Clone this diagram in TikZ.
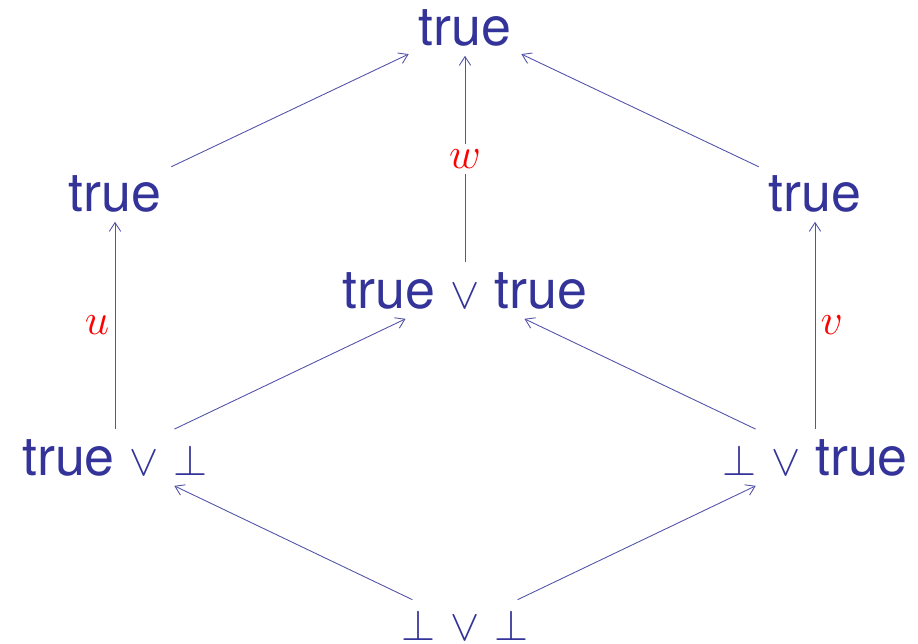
\documentclass[tikz,border=0pt]{standalone}
\usepackage{amsmath}
\usepackage{amssymb}
\usepackage{fontspec}
\setmainfont{TeX Gyre Heros}
\usepackage{tikz}
\usetikzlibrary{arrows.meta}

\definecolor{termblue}{RGB}{51,51,153}
\definecolor{labred}{RGB}{255,0,0}

\begin{document}
\begin{tikzpicture}[x=0.02cm, y=-0.02cm,
    term/.style={anchor=base, text=termblue, inner sep=5.5pt, font=\fontsize{30.6}{36}\selectfont},
    arrow/.style={-{Straight Barb[length=5pt, width=6.5pt]}, draw=termblue!85, line width=0.5pt},
    lab/.style={text=labred, font=\fontsize{30.6}{36}\selectfont, inner sep=3pt}
]
\useasboundingbox (0,0) rectangle (918,643);

% Terms of the lattice
\node[term] (top) at (465,45) {true};
\node[term] (lt) at (115,211) {true};
\node[term] (rt) at (815,211) {true};
\node[term] (mid) at (465,308) {true $\vee$ true};
\node[term] (lb) at (115,475) {true $\vee$ $\bot$};
\node[term] (rb) at (815,475) {$\bot$ $\vee$ true};
\node[term] (bot) at (465,640) {$\bot$ $\vee$ $\bot$};

% Reductions
\draw[arrow] (lt) -- (top);
\draw[arrow] (rt) -- (top);
\draw[arrow] (mid) -- node[lab, fill=white] {$w$} (top);
\draw[arrow] (lb) -- node[lab, left] {$u$} (lt);
\draw[arrow] (rb) -- node[lab, right] {$v$} (rt);
\draw[arrow] (lb) -- (mid);
\draw[arrow] (rb) -- (mid);
\draw[arrow] (bot) -- (lb);
\draw[arrow] (bot) -- (rb);
\end{tikzpicture}
\end{document}
